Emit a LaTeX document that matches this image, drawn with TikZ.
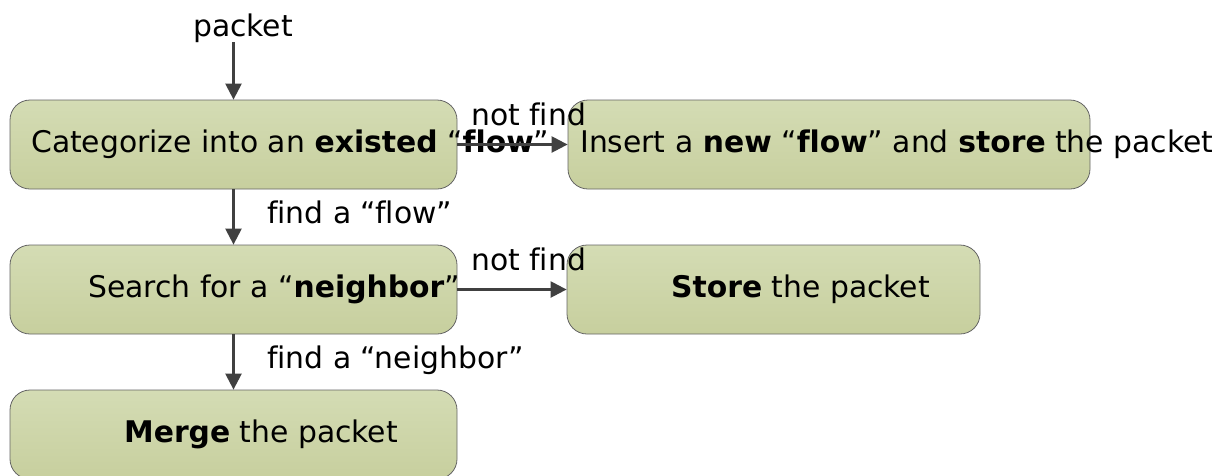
\documentclass[tikz,border=0pt]{standalone}
\usepackage{fontspec}
\setmainfont[Ligatures=NoCommon]{DejaVu Sans}
\usepackage{tikz}
\usetikzlibrary{arrows.meta}
\definecolor{boxtop}{RGB}{212,220,180}
\definecolor{boxbot}{RGB}{199,207,158}
\definecolor{boxline}{RGB}{100,100,100}
\definecolor{arrowgray}{RGB}{64,64,64}
\tikzset{
  flow-box/.style={draw=boxline, top color=boxtop, bottom color=boxbot, rounded corners=20pt,
    line width=0.8pt, minimum height=89pt, inner sep=0pt},
  flow-text/.style={anchor=base west, inner sep=0pt, font=\fontsize{29.8}{34}\selectfont},
  flow-arrow/.style={-{Triangle[length=16pt,width=16pt]}, draw=arrowgray, fill=arrowgray, line width=2.4pt}
}

\begin{document}
\begin{tikzpicture}[x=1pt, y=-1pt]
  \useasboundingbox (0,0) rectangle (1225,475);

  % boxes
  \node[flow-box, minimum width=447pt] (cat) at (233.5,144.5) {};
  \node[flow-box, minimum width=522pt] (ins) at (829,144.5) {};
  \node[flow-box, minimum width=447pt] (srch) at (233.5,289.5) {};
  \node[flow-box, minimum width=413pt] (sto) at (773.5,289.5) {};
  \node[flow-box, minimum width=447pt] (mrg) at (233.5,434.5) {};

  % texts inside the boxes
  \node[flow-text] (cattxt) at (31,152) {Categorize into an \textbf{existed} “\textbf{flow}”};
  \node[flow-text] (instxt) at (580,152) {Insert a \textbf{new} “\textbf{flow}” and \textbf{store} the packet};
  \node[flow-text] (srchtxt) at (88,297) {Search for a “\textbf{neighbor}”};
  \node[flow-text] (stotxt) at (671,297) {\textbf{Store} the packet};
  \node[flow-text] (mrgtxt) at (124,442) {\textbf{Merge} the packet};

  % input
  \node[flow-text, anchor=base] (pkt) at (243,36) {packet};

  % edge labels
  \node[flow-text] (nf1) at (471,125) {not find};
  \node[flow-text] (nf2) at (471,270) {not find};
  \node[flow-text] (ff) at (267,223) {find a “flow”};
  \node[flow-text] (fn) at (267,368) {find a “neighbor”};

  % arrows
  \draw[flow-arrow] (pkt.south -| cat.north) -- (cat.north);
  \draw[flow-arrow] (cat) -- (ins);
  \draw[flow-arrow] (cat) -- (srch);
  \draw[flow-arrow] (srch) -- (sto);
  \draw[flow-arrow] (srch) -- (mrg);
\end{tikzpicture}
\end{document}
